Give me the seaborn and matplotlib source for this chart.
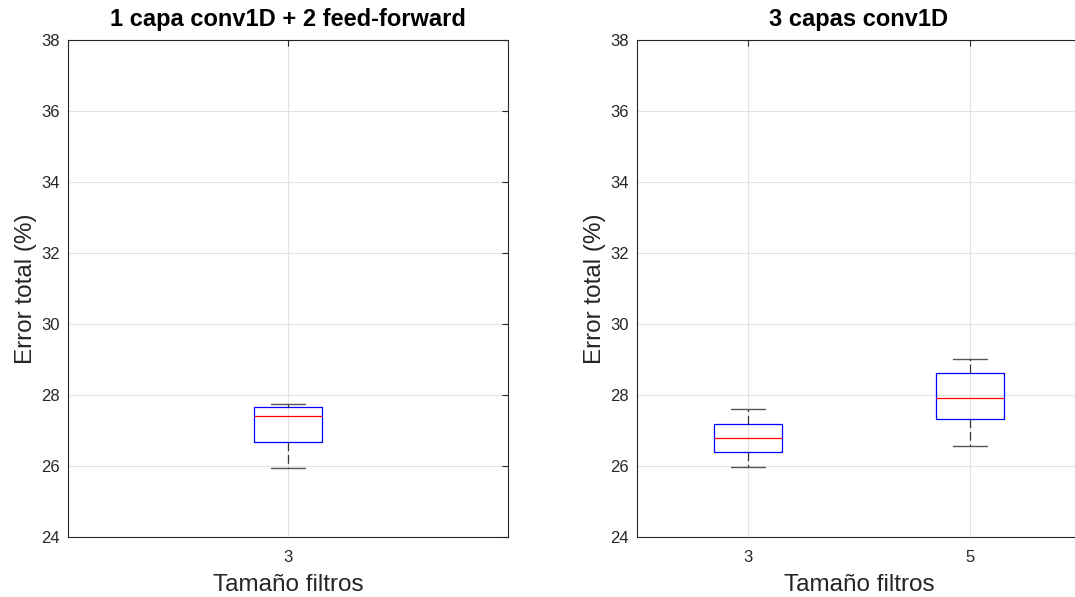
import numpy as np
import pandas as pd
import matplotlib
matplotlib.use("Agg")
import matplotlib.pyplot as plt
import seaborn as sns

# Five-number summaries: [min, q1, median, q3, max]
left_filters = ["3"]
left_stats = [[25.95, 26.67, 27.41, 27.67, 27.74]]

right_filters = ["3", "5"]
right_stats = [[25.98, 26.39, 26.78, 27.19, 27.60],
               [26.56, 27.31, 27.91, 28.63, 29.02]]

titles = ["1 capa conv1D + 2 feed-forward", "3 capas conv1D"]
xlabel = "Tamaño filtros"
ylabel = "Error total (%)"
yticks = [24, 26, 28, 30, 32, 34, 36, 38]

sns.set_style("white")
plt.rcParams['font.family'] = ['Liberation Sans', 'DejaVu Sans']

fig = plt.figure(figsize=(10.75, 5.97), dpi=100)
ax1 = fig.add_axes([68/1075, 1-537/597, 440/1075, 497/597])
ax2 = fig.add_axes([637/1075, 1-537/597, 444/1075, 497/597])

def long_df(filters, stats):
    rows = []
    for f, s in zip(filters, stats):
        for v in s:
            rows.append({"filt": f, "err": v})
    return pd.DataFrame(rows)

for ax, filters, stats, title, w in [(ax1, left_filters, left_stats, titles[0], 0.153),
                                      (ax2, right_filters, right_stats, titles[1], 0.302)]:
    df = long_df(filters, stats)
    sns.boxplot(data=df, x="filt", y="err", ax=ax, width=w, whis=(0, 100),
                fill=False, color="blue", linewidth=0.9,
                boxprops=dict(color="blue"),
                medianprops=dict(color="red", linewidth=0.9),
                whiskerprops=dict(color="#333333", linestyle=(0, (7, 3)), linewidth=0.9),
                capprops=dict(color="#555555", linewidth=1.0),
                showfliers=False, zorder=3)
    ax.set_xlim(-0.5, len(filters) - 0.5)
    ax.set_ylim(24, 38)
    ax.set_yticks(yticks)
    ax.grid(True, color="#e3e3e3", linewidth=0.8)
    ax.set_axisbelow(True)
    ax.set_title(title, fontsize=17, fontweight="bold", pad=10, color="black")
    ax.set_xlabel(xlabel, fontsize=17.5, color="#262626", labelpad=7)
    ax.set_ylabel(ylabel, fontsize=17.5, color="#262626", labelpad=3)
    ax.tick_params(axis="both", labelsize=12, colors="#262626", direction="in",
                   length=4, width=0.8, top=True, right=True)
    ax.tick_params(axis="y", pad=6)
    ax.tick_params(axis="x", pad=9)
    for sp in ax.spines.values():
        sp.set_visible(True)
        sp.set_color("#262626")
        sp.set_linewidth(0.8)

fig.savefig("out.png", dpi=100)
